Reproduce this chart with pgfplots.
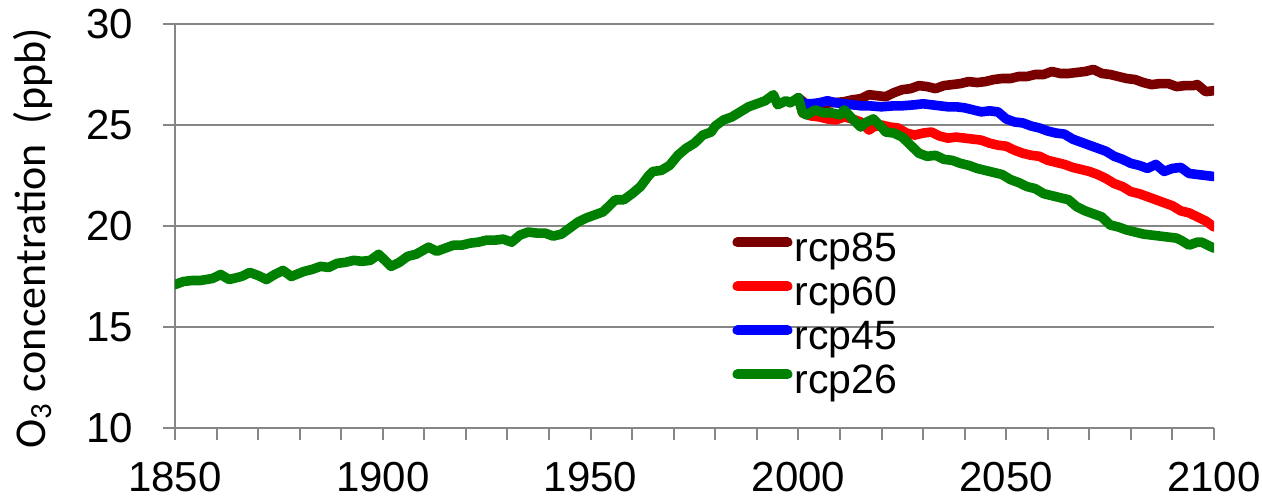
\documentclass[border=0pt]{standalone}
\usepackage{fontspec}
\setmainfont{Liberation Sans}
\newfontfamily\labelfont{Carlito}
\usepackage{pgfplots}
\pgfplotsset{compat=1.18}

\definecolor{rcpbrown}{RGB}{122,0,0}
\definecolor{rcpred}{RGB}{255,0,0}
\definecolor{rcpblue}{RGB}{0,0,255}
\definecolor{rcpgreen}{RGB}{0,128,0}
\definecolor{axisgray}{RGB}{134,134,134}

\begin{document}
\begin{tikzpicture}
\begin{axis}[
  scale only axis,
  width=519.5pt, height=202pt,
  xmin=1850, xmax=2100, ymin=10, ymax=30,
  axis x line*=bottom, axis y line*=left,
  axis line style={-, draw=axisgray, line width=1pt},
  xtick={1850,1900,...,2100},
  minor xtick={1860,1870,...,2090},
  ytick={10,15,...,30},
  ymajorgrids,
  grid style={draw=axisgray, line width=1pt},
  tick align=outside,
  major tick length=6pt, minor tick length=6pt,
  tick style={draw=axisgray, line width=1pt},
  /pgf/number format/assume math mode=true,
  /pgf/number format/1000 sep={},
  ticklabel style={font=\fontsize{21}{25}\selectfont},
  xticklabel style={yshift=-7.5pt},
  yticklabel style={xshift=-11.5pt},
  ylabel={O\textsubscript{3} concentration\ \ (ppb)},
  ylabel style={font=\labelfont\fontsize{22}{26}\selectfont, at={(axis description cs:-0.1367,0.47)}, anchor=center},
  legend style={draw=none, fill=none, at={(axis cs:1982.6,19.95)}, anchor=north west,
    font=\fontsize{20.5}{24}\selectfont, row sep=3pt,
    nodes={inner sep=0pt, inner xsep=1pt, text height=15pt, text depth=4pt}},
  legend cell align=left,
  legend image code/.code={\draw[#1, line width=5pt, line cap=round] (2.5pt,4pt) -- (27.5pt,4pt);},
  every axis plot/.append style={line width=4.8pt, line join=round, line cap=round},
]
% RCP8.5
\addplot[rcpbrown] coordinates {
(2000,26.35) (2002,26.0) (2005,26.05) (2008,26.1) (2011,26.15) (2013,26.25)
(2015,26.3) (2017,26.5) (2019,26.45) (2021,26.4) (2023,26.6) (2025,26.75)
(2027,26.8) (2029,26.95) (2031,26.9) (2033,26.8) (2035,26.95) (2037,27.0)
(2039,27.05) (2041,27.15) (2043,27.1) (2045,27.15) (2047,27.25) (2049,27.3)
(2051,27.3) (2053,27.4) (2055,27.4) (2057,27.5) (2059,27.5) (2061,27.65)
(2063,27.55) (2065,27.55) (2067,27.6) (2069,27.65) (2071,27.75) (2073,27.55)
(2075,27.5) (2077,27.4) (2079,27.3) (2081,27.25) (2083,27.1) (2085,27.0)
(2087,27.05) (2089,27.05) (2091,26.9) (2093,26.95) (2095,26.95) (2096,27.0)
(2098,26.65) (2100,26.7)
};
\addlegendentry{rcp85}
% RCP6.0
\addplot[rcpred] coordinates {
(2000,26.35) (2001,25.6) (2003,25.45) (2005,25.4) (2007,25.3) (2009,25.25)
(2011,25.4) (2013,25.3) (2015,25.15) (2017,24.75) (2018,24.9) (2020,25.0)
(2022,24.9) (2024,24.85) (2026,24.6) (2028,24.5) (2030,24.6) (2032,24.65)
(2034,24.45) (2036,24.35) (2038,24.4) (2040,24.35) (2042,24.3) (2044,24.25)
(2046,24.1) (2048,24.0) (2050,23.95) (2052,23.75) (2054,23.6) (2056,23.5)
(2058,23.45) (2060,23.25) (2062,23.15) (2064,23.05) (2066,22.9) (2068,22.8)
(2070,22.7) (2072,22.55) (2074,22.35) (2076,22.1) (2078,21.95) (2080,21.7)
(2082,21.6) (2084,21.45) (2086,21.3) (2088,21.15) (2090,21.0) (2092,20.75)
(2094,20.65) (2096,20.45) (2098,20.25) (2100,19.95)
};
\addlegendentry{rcp60}
% RCP4.5
\addplot[rcpblue] coordinates {
(2000,26.35) (2001,26.05) (2003,26.05) (2005,26.1) (2007,26.2) (2009,26.1)
(2011,26.05) (2013,26.0) (2015,25.95) (2017,25.95) (2020,25.9) (2023,25.95)
(2025,25.95) (2028,26.0) (2030,26.05) (2032,26.0) (2034,25.95) (2036,25.9)
(2038,25.9) (2040,25.85) (2042,25.75) (2044,25.65) (2046,25.7) (2048,25.65)
(2050,25.3) (2052,25.15) (2054,25.1) (2056,24.95) (2058,24.85) (2060,24.7)
(2062,24.6) (2064,24.55) (2066,24.3) (2068,24.15) (2070,24.0) (2072,23.85)
(2074,23.7) (2076,23.45) (2078,23.3) (2080,23.1) (2082,23.0) (2084,22.85)
(2086,23.05) (2088,22.7) (2090,22.85) (2092,22.9) (2094,22.6) (2096,22.55)
(2098,22.5) (2100,22.45)
};
\addlegendentry{rcp45}
% RCP2.6, including the historical record 1850-2000
\addplot[rcpgreen] coordinates {
(1850,17.1) (1852,17.25) (1854,17.3) (1856,17.3) (1859,17.4) (1861,17.6)
(1863,17.35) (1866,17.5) (1868,17.7) (1870,17.55) (1872,17.35) (1874,17.6)
(1876,17.8) (1878,17.5) (1881,17.75) (1883,17.85) (1885,18.0) (1887,17.95)
(1889,18.15) (1891,18.2) (1893,18.3) (1895,18.25) (1897,18.3) (1899,18.6)
(1900,18.4) (1902,18.0) (1904,18.2) (1906,18.5) (1908,18.6) (1911,18.95)
(1913,18.75) (1915,18.9) (1917,19.05) (1919,19.05) (1921,19.15) (1923,19.2)
(1925,19.3) (1927,19.3) (1929,19.35) (1931,19.2) (1933,19.55) (1935,19.7)
(1937,19.65) (1939,19.65) (1941,19.5) (1943,19.6) (1945,19.9) (1947,20.2)
(1949,20.4) (1951,20.55) (1953,20.7) (1955,21.1) (1956,21.3) (1958,21.3)
(1960,21.6) (1962,21.95) (1964,22.5) (1965,22.7) (1967,22.75) (1969,23.0)
(1971,23.5) (1973,23.85) (1975,24.1) (1977,24.5) (1979,24.65) (1980,24.95)
(1982,25.25) (1984,25.4) (1986,25.65) (1988,25.9) (1990,26.05) (1992,26.2)
(1994,26.5) (1995,26.0) (1997,26.2) (1998,26.1) (2000,26.35)
(2001,25.6) (2002,25.5) (2004,25.75) (2006,25.6) (2008,25.6) (2010,25.5)
(2011,25.75) (2013,25.3) (2015,24.9) (2016,25.1) (2018,25.3) (2020,24.9)
(2021,24.65) (2023,24.6) (2025,24.4) (2027,24.0) (2029,23.6) (2031,23.45)
(2033,23.5) (2035,23.3) (2037,23.25) (2039,23.1) (2041,23.0) (2043,22.85)
(2045,22.75) (2047,22.65) (2049,22.55) (2051,22.3) (2053,22.15) (2055,21.95)
(2057,21.85) (2059,21.6) (2061,21.5) (2063,21.4) (2065,21.3) (2067,20.95)
(2069,20.75) (2071,20.6) (2073,20.45) (2075,20.05) (2077,19.95) (2079,19.8)
(2081,19.7) (2083,19.6) (2085,19.55) (2087,19.5) (2089,19.45) (2091,19.4)
(2092,19.3) (2094,19.05) (2096,19.2) (2097,19.2) (2099,19.0) (2100,18.9)
};
\addlegendentry{rcp26}
\coordinate (O) at (rel axis cs:0,0);
\end{axis}
\pgfresetboundingbox
\path (O) ++(-87.5pt,-36.5pt) rectangle ++(631pt,250.5pt);
\end{tikzpicture}
\end{document}
